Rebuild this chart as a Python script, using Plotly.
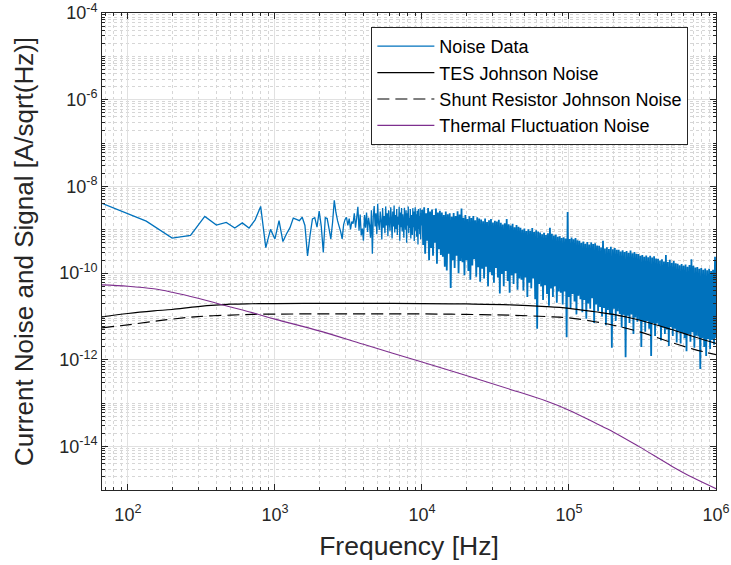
import numpy as np
import plotly.graph_objects as go

# ---------------- data ----------------
DF_HZ = 1e6 / 15000.0  # frequency bin width of the noise spectrum

# Noise data, first 150 bins (k * DF), log10 of current noise [A/sqrt(Hz)]
noise_low_log10 = [
    -8.39, -8.80, -9.19, -9.13, -8.69, -8.89, -8.83, -8.96, -8.84, -8.96,
    -8.77, -8.46, -9.41, -8.99, -9.21, -8.79, -9.27, -9.09, -8.95, -8.73,
    -8.76, -8.79, -8.71, -8.90, -9.60, -9.13, -8.75, -8.72, -8.94, -8.57,
    -8.92, -9.52, -8.72, -8.74, -8.97, -9.21, -8.83, -8.32, -8.60, -8.79,
    -8.92, -9.04, -9.21, -8.88, -8.76, -8.71, -8.90, -8.74, -8.99, -8.81,
    -8.86, -8.62, -8.95, -8.72, -8.47, -9.02, -8.65, -9.13, -8.97, -9.25,
    -8.66, -8.95, -8.60, -9.05, -8.72, -8.88, -9.18, -8.55, -9.55, -8.70,
    -8.45, -8.92, -8.62, -9.10, -8.40, -8.85, -9.00, -8.58, -8.78, -9.22,
    -8.50, -8.95, -8.68, -9.08, -8.46, -8.90, -8.62, -9.15, -8.55, -8.82,
    -9.02, -8.48, -8.76, -9.20, -8.58, -8.92, -8.44, -9.06, -8.66, -8.98,
    -8.52, -9.12, -8.70, -8.88, -8.47, -9.25, -8.60, -8.94, -8.50, -9.04,
    -8.64, -8.86, -9.18, -8.49, -8.80, -9.00, -8.55, -9.30, -8.62, -8.90,
    -8.46, -9.08, -8.72, -8.96, -8.52, -9.20, -8.66, -8.84, -9.12, -8.50,
    -8.94, -8.58, -9.26, -8.70, -8.48, -9.02, -8.64, -9.16, -8.56, -8.88,
    -9.34, -8.52, -8.98, -8.68, -9.10, -8.50, -9.22, -8.62, -8.90, -8.54,
]

# Noise data above 10 kHz (dense band), sampled log-uniformly 10 kHz .. 1 MHz:
# successive local maxima (peaks) and minima (dips) read from the picture, log10
noise_band_peaks_log10 = [
    -8.55, -8.48, -8.62, -8.50, -8.58, -8.53, -8.66, -8.51, -8.60, -8.56,
    -8.60, -8.66, -8.58, -8.64, -8.62, -8.70, -8.61, -8.68, -8.57, -8.65,
    -8.51, -8.72, -8.66, -8.75, -8.69, -8.73, -8.68, -8.78, -8.71, -8.74,
    -8.76, -8.80, -8.74, -8.82, -8.78, -8.75, -8.83, -8.79, -8.81, -8.77,
    -8.84, -8.88, -8.85, -8.75, -8.87, -8.90, -8.86, -8.94, -8.89, -8.93,
    -8.95, -9.00, -8.97, -9.03, -8.99, -9.02, -8.96, -9.05, -9.01, -9.04,
    -9.06, -9.10, -9.07, -9.12, -9.08, -8.95, -9.09, -9.13, -9.11, -9.16,
    -9.15, -9.19, -9.17, -9.20, -8.59, -9.21, -9.18, -9.22, -9.19, -9.24,
    -9.25, -9.30, -9.27, -9.32, -9.28, -9.34, -9.29, -9.33, -9.31, -9.36,
    -9.37, -9.41, -9.25, -9.43, -9.40, -9.44, -9.39, -9.45, -9.42, -9.46,
    -9.46, -9.50, -9.47, -9.51, -9.49, -9.53, -9.48, -9.54, -9.51, -9.55,
    -9.56, -9.60, -9.58, -9.62, -9.59, -9.63, -9.60, -9.64, -9.61, -9.66,
    -9.67, -9.71, -9.68, -9.73, -9.58, -9.74, -9.69, -9.76, -9.72, -9.77,
    -9.78, -9.82, -9.79, -9.83, -9.80, -9.85, -9.81, -9.68, -9.83, -9.87,
    -9.86, -9.90, -9.88, -9.92, -9.89, -9.93, -9.90, -9.95, -9.92, -9.62,
]
noise_band_dips_log10 = [
    -9.35, -9.55, -9.25, -9.70, -9.42, -9.60, -9.30, -9.78, -9.45, -9.58,
    -9.62, -9.85, -9.94, -9.55, -10.34, -9.70, -9.88, -9.60, -10.00, -9.72,
    -9.75, -10.05, -9.70, -9.95, -10.15, -9.82, -9.68, -10.08, -9.86, -10.20,
    -9.90, -10.12, -9.85, -10.30, -9.98, -10.05, -10.22, -9.88, -10.10, -10.47,
    -10.02, -10.30, -9.95, -10.18, -10.45, -10.05, -10.25, -10.00, -10.38, -10.12,
    -10.15, -10.40, -10.10, -10.55, -10.22, -10.35, -10.12, -10.60, -11.28, -10.25,
    -10.30, -10.62, -10.28, -10.48, -10.75, -10.35, -10.55, -10.30, -10.68, -10.42,
    -10.45, -10.72, -10.42, -11.48, -10.55, -10.80, -10.48, -10.65, -10.95, -10.52,
    -10.60, -10.90, -10.62, -11.05, -10.70, -10.82, -10.58, -11.15, -10.72, -10.88,
    -10.78, -11.00, -10.80, -11.20, -10.85, -10.95, -11.72, -10.82, -11.10, -10.88,
    -10.94, -11.25, -10.96, -11.94, -10.98, -11.15, -10.95, -11.40, -11.02, -11.12,
    -11.08, -11.70, -11.12, -11.35, -11.10, -11.28, -11.91, -11.15, -11.45, -11.16,
    -11.22, -11.55, -11.25, -11.40, -11.30, -11.68, -11.24, -11.45, -11.28, -11.60,
    -11.35, -11.62, -11.38, -11.50, -11.80, -11.40, -11.58, -11.36, -11.72, -11.44,
    -11.46, -12.21, -11.50, -11.70, -11.91, -11.52, -11.75, -11.54, -11.65, -11.50,
]

# Model curves
model_freq_hz = [66.67, 100, 150, 200, 300, 500, 700, 1e3, 2e3, 4e3, 1e4,
                 2e4, 4e4, 7e4, 1e5, 1.5e5, 2e5, 3e5, 5e5, 7e5, 1e6]
tes_johnson_log10 = [-11.01, -10.93, -10.87, -10.837, -10.77, -10.715, -10.705,
                     -10.70, -10.697, -10.697, -10.70, -10.71, -10.73, -10.77,
                     -10.81, -10.89, -10.95, -11.08, -11.30, -11.46, -11.62]
shunt_johnson_log10 = [-11.26, -11.19, -11.11, -11.06, -11.00, -10.967, -10.95,
                       -10.943, -10.94, -10.94, -10.94, -10.95, -10.97, -11.00,
                       -11.03, -11.12, -11.20, -11.35, -11.60, -11.75, -11.88]
thermal_fluct_log10 = [-10.27, -10.30, -10.36, -10.44, -10.58, -10.78, -10.91,
                       -11.06, -11.33, -11.64, -12.05, -12.36, -12.68, -12.95,
                       -13.16, -13.45, -13.66, -14.00, -14.45, -14.72, -14.97]

x_tick_vals = [1e2, 1e3, 1e4, 1e5, 1e6]
x_tick_text = ["10<sup>2</sup>", "10<sup>3</sup>", "10<sup>4</sup>",
               "10<sup>5</sup>", "10<sup>6</sup>"]
y_tick_vals = [1e-14, 1e-12, 1e-10, 1e-8, 1e-6, 1e-4]
y_tick_text = ["10<sup>-14</sup>", "10<sup>-12</sup>", "10<sup>-10</sup>",
               "10<sup>-8</sup>", "10<sup>-6</sup>", "10<sup>-4</sup>"]

# ---------------- build ----------------
low_freq = DF_HZ * np.arange(1, len(noise_low_log10) + 1)
low_amp = 10.0 ** np.array(noise_low_log10)

band_log = np.empty(2 * len(noise_band_peaks_log10))
band_log[0::2] = noise_band_peaks_log10
band_log[1::2] = noise_band_dips_log10
band_freq = np.geomspace(1.004e4, 1e6, len(band_log))
band_amp = 10.0 ** band_log

mf = np.array(model_freq_hz)

BLUE = "#0072BD"
PURPLE = "#7E2F8E"
AX = "#262626"
FONT = "Liberation Sans, Arial, Helvetica, sans-serif"

fig = go.Figure()
fig.add_trace(go.Scatter(x=low_freq, y=low_amp, mode="lines",
                         line=dict(color=BLUE, width=1.3, simplify=False),
                         name="Noise Data", legendgroup="noise"))
fig.add_trace(go.Scatter(x=np.concatenate([low_freq[-1:], band_freq]),
                         y=np.concatenate([low_amp[-1:], band_amp]), mode="lines",
                         line=dict(color=BLUE, width=1.8, simplify=False),
                         name="Noise Data", legendgroup="noise", showlegend=False))
fig.add_trace(go.Scatter(x=mf, y=10.0 ** np.array(tes_johnson_log10), mode="lines",
                         line=dict(color="black", width=1.2, shape="spline"),
                         name="TES Johnson Noise"))
fig.add_trace(go.Scatter(x=mf, y=10.0 ** np.array(shunt_johnson_log10), mode="lines",
                         line=dict(color="black", width=1.2, dash="12px,6px", shape="spline"),
                         name="Shunt Resistor Johnson Noise"))
fig.add_trace(go.Scatter(x=mf, y=10.0 ** np.array(thermal_fluct_log10), mode="lines",
                         line=dict(color=PURPLE, width=1.1, shape="spline"),
                         name="Thermal Fluctuation Noise"))

grid_major = "#e1e1e1"
grid_minor = "#d6d6d6"

common = dict(type="log", showline=True, linecolor=AX, linewidth=1, mirror="ticks",
              ticks="inside", ticklen=6, tickcolor=AX, showgrid=True,
              gridcolor=grid_major, gridwidth=1, zeroline=False, automargin=False,
              tickfont=dict(family=FONT, size=18, color=AX),
              minor=dict(dtick="D1", ticks="inside", ticklen=3, tickcolor=AX,
                         showgrid=True, gridcolor=grid_minor, griddash="dot",
                         gridwidth=1))

fig.update_xaxes(**common, range=[np.log10(DF_HZ), 6], tickmode="array",
                 tickvals=x_tick_vals, ticktext=x_tick_text, ticklabelstandoff=8,
                 title=dict(text="Frequency [Hz]", standoff=12,
                            font=dict(family=FONT, size=26.5, color=AX)))
fig.update_yaxes(**common, range=[-15, -4], tickmode="array",
                 tickvals=y_tick_vals, ticktext=y_tick_text,
                 title=dict(text="Current Noise and Signal [A/sqrt(Hz)]", standoff=18,
                            font=dict(family=FONT, size=26, color=AX)))

fig.update_layout(
    width=731, height=565,
    margin=dict(l=102, r=15, t=13, b=75),
    paper_bgcolor="white", plot_bgcolor="white",
    font=dict(family=FONT, color=AX),
    showlegend=True,
    legend=dict(x=0.955, y=0.9706, xanchor="right", yanchor="top",
                bgcolor="white", bordercolor=AX, borderwidth=1,
                font=dict(family=FONT, size=18, color="black"),
                tracegroupgap=0, itemwidth=57),
)

fig.write_html("out.html")
